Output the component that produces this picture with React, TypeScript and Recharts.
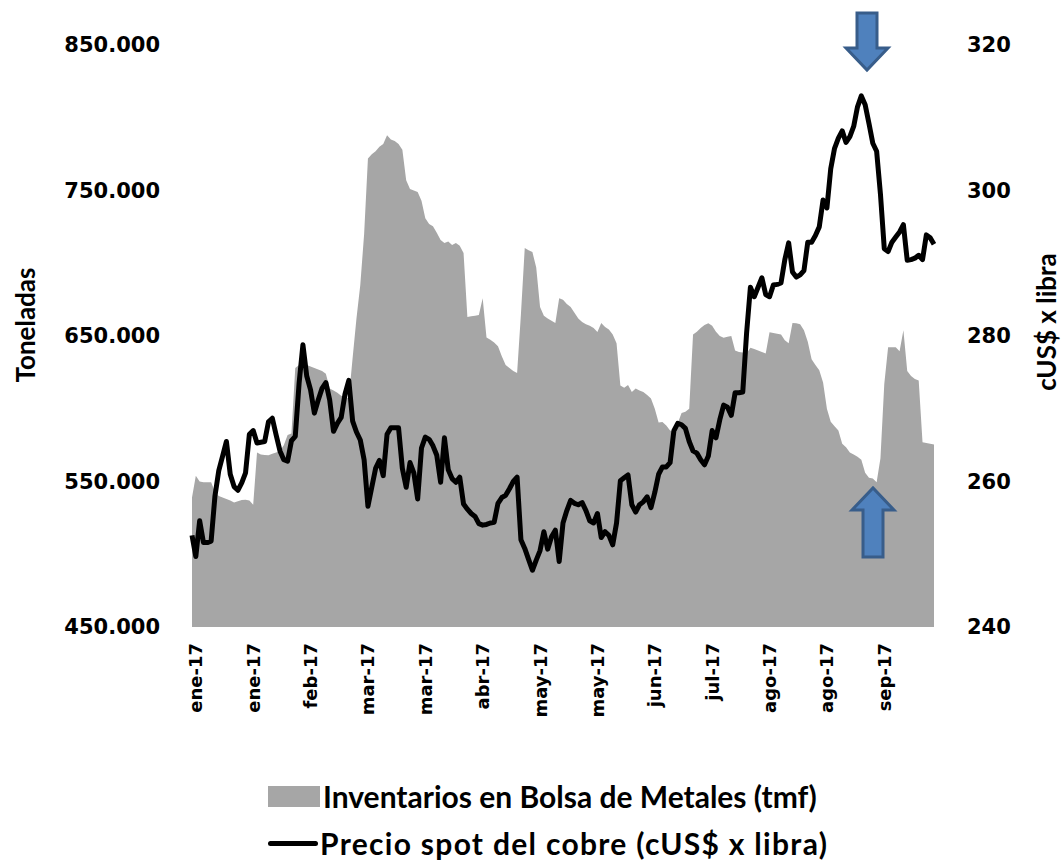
import React from 'react';
import { ComposedChart, Area, Line, XAxis, YAxis } from 'recharts';

// inventarios LME, miles de tmf (un dato por día hábil, ene-sep 2017)
const inventory = [
  539, 554, 550, 549.5, 549.5, 549.5, 543, 540, 539, 538,
  537, 535.5, 536.5, 537.3, 537.5, 537, 534, 570, 568.5, 568.2,
  568, 569, 570, 571, 575, 582, 583, 628, 630, 631,
  630, 629, 628, 627, 626, 624, 614, 612.5, 611, 609,
  608, 607, 635, 662, 685, 720, 772, 775, 777, 780,
  782, 788, 785, 784, 782, 778, 757, 751, 750, 749,
  743, 731, 727, 725.5, 721, 716, 714, 715, 712.5, 714,
  712, 707, 663, 663.5, 664, 664.4, 676, 649, 647.5, 645.5,
  643, 636, 630, 628, 626, 624.6, 665, 710.5, 709, 707.7,
  697, 670, 664, 662, 660.5, 659, 676, 675, 672, 670,
  666, 662, 659.6, 658, 657, 655.5, 652.8, 659, 656.2, 654.5,
  651, 645, 616, 614.5, 616.3, 611.5, 614, 612.5, 611.5, 609.5,
  607, 600, 590.5, 590.9, 588.5, 585, 584, 590, 597, 598,
  600, 651, 653, 655.5, 657.5, 658.7, 657, 653, 650, 648.8,
  649.5, 650, 640, 639, 638.6, 638, 642, 641, 640, 639,
  638, 652.5, 652, 651.5, 651, 647, 645, 659, 658.7, 658,
  654, 646, 634, 630, 626.5, 618, 600, 591, 588, 585,
  576, 573.5, 570, 568.5, 567, 565, 556, 552.5, 552, 549.5,
  566, 617, 642.3, 642.3, 642.3, 639.5, 654, 626, 622.5, 620.5,
  619.5, 577, 576.5, 576, 575.5,
];

// precio spot del cobre, cUS$ x libra
const price = [
  252.6, 249.7, 254.6, 251.6, 251.6, 251.8, 258.0, 261.5, 263.5, 265.5,
  261.0, 259.3, 258.8, 259.8, 261.2, 266.5, 267.0, 265.3, 265.4, 265.5,
  268.2, 268.7, 266.4, 264.2, 263.0, 262.8, 265.6, 266.2, 273.5, 278.8,
  274.5, 272.6, 269.4, 271.2, 272.8, 273.6, 271.2, 266.9, 268.0, 268.8,
  272.0, 273.9, 268.3, 266.8, 265.7, 263.0, 256.6, 259.2, 261.8, 262.9,
  260.8, 266.5, 267.4, 267.4, 267.4, 261.8, 259.2, 262.6, 261.2, 257.6,
  264.6, 266.1, 265.8, 264.9, 263.6, 259.9, 266.0, 261.6, 260.4, 259.9,
  260.6, 256.9, 256.2, 255.6, 255.2, 254.2, 254.0, 254.1, 254.3, 254.4,
  257.0, 257.8, 258.1, 259.0, 260.0, 260.6, 252.0, 250.8, 249.3, 247.8,
  249.2, 250.5, 253.1, 250.7, 252.4, 253.3, 249.0, 254.3, 256.0, 257.4,
  257.0, 256.8, 257.1, 256.0, 254.6, 254.3, 255.6, 252.3, 253.1, 252.6,
  251.3, 254.3, 260.1, 260.5, 260.9, 256.8, 255.8, 256.8, 257.2, 257.9,
  256.4, 258.5, 261.0, 262.0, 262.0, 262.6, 267.0, 268.0, 267.8, 267.3,
  265.5, 264.2, 263.9, 263.0, 262.3, 263.5, 267.0, 266.0, 268.5, 270.5,
  270.2, 269.1, 272.2, 272.2, 272.3, 280.4, 286.7, 285.4, 286.7, 288.0,
  285.7, 285.4, 287.0, 287.1, 287.3, 290.5, 292.8, 288.8, 288.1, 288.4,
  289.0, 292.9, 292.9, 293.8, 295.0, 298.7, 297.6, 303.0, 305.8, 307.2,
  308.2, 306.6, 307.4, 308.8, 311.5, 313.0, 311.8, 309.2, 306.5, 305.4,
  299.5, 292.0, 291.6, 292.9, 293.6, 294.3, 295.3, 290.4, 290.5, 290.7,
  291.1, 290.5, 293.9, 293.5, 292.6,
];

// días con etiqueta en el eje x
const tickDays = [1, 16, 31, 46, 61, 76, 91, 106, 121, 136, 151, 166, 181];
const tickLabels = [
  'ene-17', 'ene-17', 'feb-17', 'mar-17', 'mar-17', 'abr-17', 'may-17',
  'may-17', 'jun-17', 'jul-17', 'ago-17', 'ago-17', 'sep-17',
];
const leftTicks = [450, 550, 650, 750, 850];
const rightTicks = [240, 260, 280, 300, 320];

const data = inventory.map((inv, i) => ({ day: i, inv, price: price[i] }));

const tickFont = '"DejaVu Sans", Verdana, sans-serif';
const titleFont = 'Lato, "Open Sans", sans-serif';

const XTick = (props: any) => {
  const { x, y, payload } = props;
  const idx = tickDays.indexOf(payload.value);
  return (
    <text
      x={x}
      y={y}
      transform={`rotate(-90 ${x} ${y})`}
      textAnchor="end"
      dominantBaseline="central"
      fontFamily={tickFont}
      fontWeight="bold"
      fontSize={18}
      fill="#000"
    >
      {idx >= 0 ? tickLabels[idx] : ''}
    </text>
  );
};

const AxisTitle = ({ cx, cy, text }: { cx: number; cy: number; text: string }) => (
  <text
    x={cx}
    y={cy}
    transform={`rotate(-90 ${cx} ${cy})`}
    textAnchor="middle"
    dominantBaseline="central"
    fontFamily={titleFont}
    fontWeight="bold"
    fontSize={26}
    fill="#000"
  >
    {text}
  </text>
);

const Arrow = ({ down, cx, top, bottom }: { down: boolean; cx: number; top: number; bottom: number }) => {
  const headLen = 22;
  const hw = 21;
  const sw = 10;
  let pts: number[][];
  if (down) {
    const hb = bottom - headLen;
    pts = [[cx - sw, top], [cx + sw, top], [cx + sw, hb], [cx + hw, hb], [cx, bottom], [cx - hw, hb], [cx - sw, hb]];
  } else {
    const hb = top + headLen;
    pts = [[cx - sw, bottom], [cx + sw, bottom], [cx + sw, hb], [cx + hw, hb], [cx, top], [cx - hw, hb], [cx - sw, hb]];
  }
  return (
    <polygon
      points={pts.map((p) => p.join(',')).join(' ')}
      fill="#4F81BD"
      stroke="#385D8A"
      strokeWidth={3}
      strokeLinejoin="miter"
    />
  );
};

export default function App() {
  return (
    <div style={{ position: 'absolute', left: 0, top: 0, width: 1061, height: 860, background: '#fff' }}>
      <ComposedChart width={1061} height={860} data={data} margin={{ top: 45, right: 0, bottom: 0, left: 0 }}>
        <XAxis
          dataKey="day"
          type="category"
          ticks={tickDays}
          interval={0}
          height={233}
          axisLine={false}
          tickLine={false}
          tickSize={0}
          tickMargin={16}
          tick={<XTick />}
        />
        <YAxis
          yAxisId="left"
          orientation="left"
          width={192}
          domain={[450, 850]}
          ticks={leftTicks}
          tickFormatter={(v: number) => `${v}.000`}
          axisLine={false}
          tickLine={false}
          tickSize={0}
          tickMargin={32}
          tick={{ fontFamily: tickFont, fontWeight: 'bold', fontSize: 21, fill: '#000' }}
          label={<AxisTitle cx={25} cy={325} text="Toneladas" />}
        />
        <YAxis
          yAxisId="right"
          orientation="right"
          width={127}
          domain={[240, 320]}
          ticks={rightTicks}
          axisLine={false}
          tickLine={false}
          tickSize={0}
          tickMargin={33}
          tick={{ fontFamily: tickFont, fontWeight: 'bold', fontSize: 21, fill: '#000' }}
          label={<AxisTitle cx={1046} cy={322} text="cUS$ x libra" />}
        />
        <Area
          yAxisId="left"
          type="linear"
          dataKey="inv"
          fill="#A6A6A6"
          fillOpacity={1}
          stroke="none"
          isAnimationActive={false}
        />
        <Line
          yAxisId="right"
          type="linear"
          dataKey="price"
          stroke="#000"
          strokeWidth={5}
          strokeLinejoin="round"
          dot={false}
          activeDot={false}
          isAnimationActive={false}
        />
      </ComposedChart>

      <svg width={1061} height={860} style={{ position: 'absolute', left: 0, top: 0, pointerEvents: 'none' }}>
        <Arrow down cx={867} top={13} bottom={70} />
        <Arrow down={false} cx={873} top={488} bottom={557} />
      </svg>

      <div
        style={{
          position: 'absolute',
          left: 268,
          top: 779,
          fontFamily: titleFont,
          fontWeight: 'bold',
          fontSize: 30,
          color: '#000',
          lineHeight: '34px',
          whiteSpace: 'nowrap',
        }}
      >
        <div style={{ display: 'flex', alignItems: 'center' }}>
          <span style={{ display: 'inline-block', width: 52, height: 21, background: '#A6A6A6', marginRight: 3 }} />
          <span>Inventarios en Bolsa de Metales (tmf)</span>
        </div>
        <div style={{ display: 'flex', alignItems: 'center', marginTop: 13 }}>
          <span style={{ display: 'inline-block', width: 50, height: 5, borderRadius: 3, background: '#000', marginRight: 2 }} />
          <span style={{ letterSpacing: 1.3 }}>Precio spot del cobre (cUS$ x libra)</span>
        </div>
      </div>
    </div>
  );
}
